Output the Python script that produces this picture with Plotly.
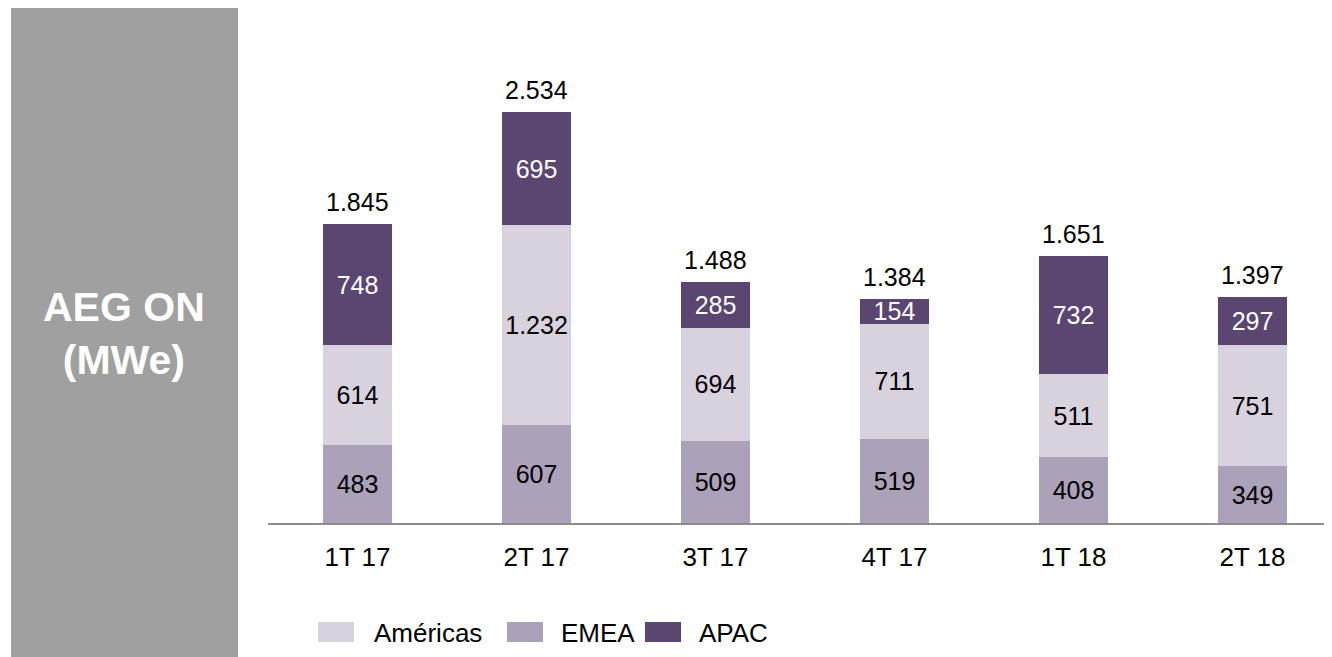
import plotly.graph_objects as go

# Data (MWe)
quarters = ['1T 17', '2T 17', '3T 17', '4T 17', '1T 18', '2T 18']
emea = [483, 607, 509, 519, 408, 349]
americas = [614, 1232, 694, 711, 511, 751]
apac = [748, 695, 285, 154, 732, 297]
totals = [1845, 2534, 1488, 1384, 1651, 1397]

series_colors = {'Américas': '#D8D2DF', 'EMEA': '#ABA1B8', 'APAC': '#5A4670'}
label_colors = {'Américas': 'black', 'EMEA': 'black', 'APAC': 'white'}

FONT = 'Liberation Sans, Arial, sans-serif'

# the page body has an 8px margin, so the figure is 8px smaller and
# every pixel position below is in page coordinates minus that offset
OFF = 8
W, H = 1332 - OFF, 657 - OFF
L, R, T = 268 - OFF, 7, 40 - OFF
BASE = 523 - OFF
B = H - BASE
pw, ph = W - L - R, H - T - B


def px_x(px):
    return (px - OFF - L) / pw


def px_y(py):
    return (BASE - (py - OFF)) / ph


fig = go.Figure()

# stacking order bottom -> top: EMEA, Américas, APAC
for name, vals in [('EMEA', emea), ('Américas', americas), ('APAC', apac)]:
    fig.add_trace(go.Bar(
        x=list(range(len(quarters))), y=vals, name=name,
        marker=dict(color=series_colors[name], line=dict(width=0)),
        width=0.39,
        text=vals, texttemplate='%{y:,.0f}',
        textposition='inside', insidetextanchor='middle',
        constraintext='none',
        textfont=dict(family=FONT, size=25, color=label_colors[name]),
        showlegend=False, hoverinfo='skip'))

# totals above the bars
for i, t in enumerate(totals):
    fig.add_annotation(x=i, y=t, text=f'{t:,}'.replace(',', '.'),
                       showarrow=False, yanchor='bottom', yshift=6,
                       font=dict(family=FONT, size=25, color='black'))

# grey side panel with the title
fig.add_shape(type='rect', xref='paper', yref='paper',
              x0=px_x(11), x1=px_x(238), y0=px_y(670), y1=px_y(6),
              fillcolor='#A0A0A0', line=dict(width=0), layer='below')
fig.add_annotation(xref='paper', yref='paper', x=px_x(124), y=px_y(333),
                   text='<b>AEG ON<br>(MWe)</b>', showarrow=False,
                   xanchor='center', yanchor='middle', align='center',
                   font=dict(family=FONT, size=41, color='white'))

# custom legend
legend_items = [('Américas', 318, 372), ('EMEA', 507, 559), ('APAC', 645, 697)]
for name, sx, tx in legend_items:
    fig.add_shape(type='rect', xref='paper', yref='paper',
                  x0=px_x(sx), x1=px_x(sx + 36), y0=px_y(642), y1=px_y(622),
                  fillcolor=series_colors[name], line=dict(width=0))
    fig.add_annotation(xref='paper', yref='paper', x=px_x(tx), y=px_y(633),
                       text=name, showarrow=False, xanchor='left', yanchor='middle',
                       font=dict(family=FONT, size=26, color='black'))

fig.update_layout(
    width=W, height=H,
    barmode='stack',
    separators=',.',
    margin=dict(l=L, r=R, t=T, b=B, pad=0),
    plot_bgcolor='white', paper_bgcolor='white',
    showlegend=False,
    font=dict(family=FONT, size=25, color='black'),
    xaxis=dict(
        tickmode='array', tickvals=list(range(len(quarters))), ticktext=quarters,
        range=[-0.5, 5.405], showgrid=False, zeroline=False,
        showline=True, linecolor='#8C8C8C', linewidth=2,
        ticks='', ticklabelstandoff=10,
        tickfont=dict(family=FONT, size=26, color='black'),
        fixedrange=True),
    yaxis=dict(range=[0, ph / 0.162], visible=False, fixedrange=True),
)

fig.write_html("out.html")
